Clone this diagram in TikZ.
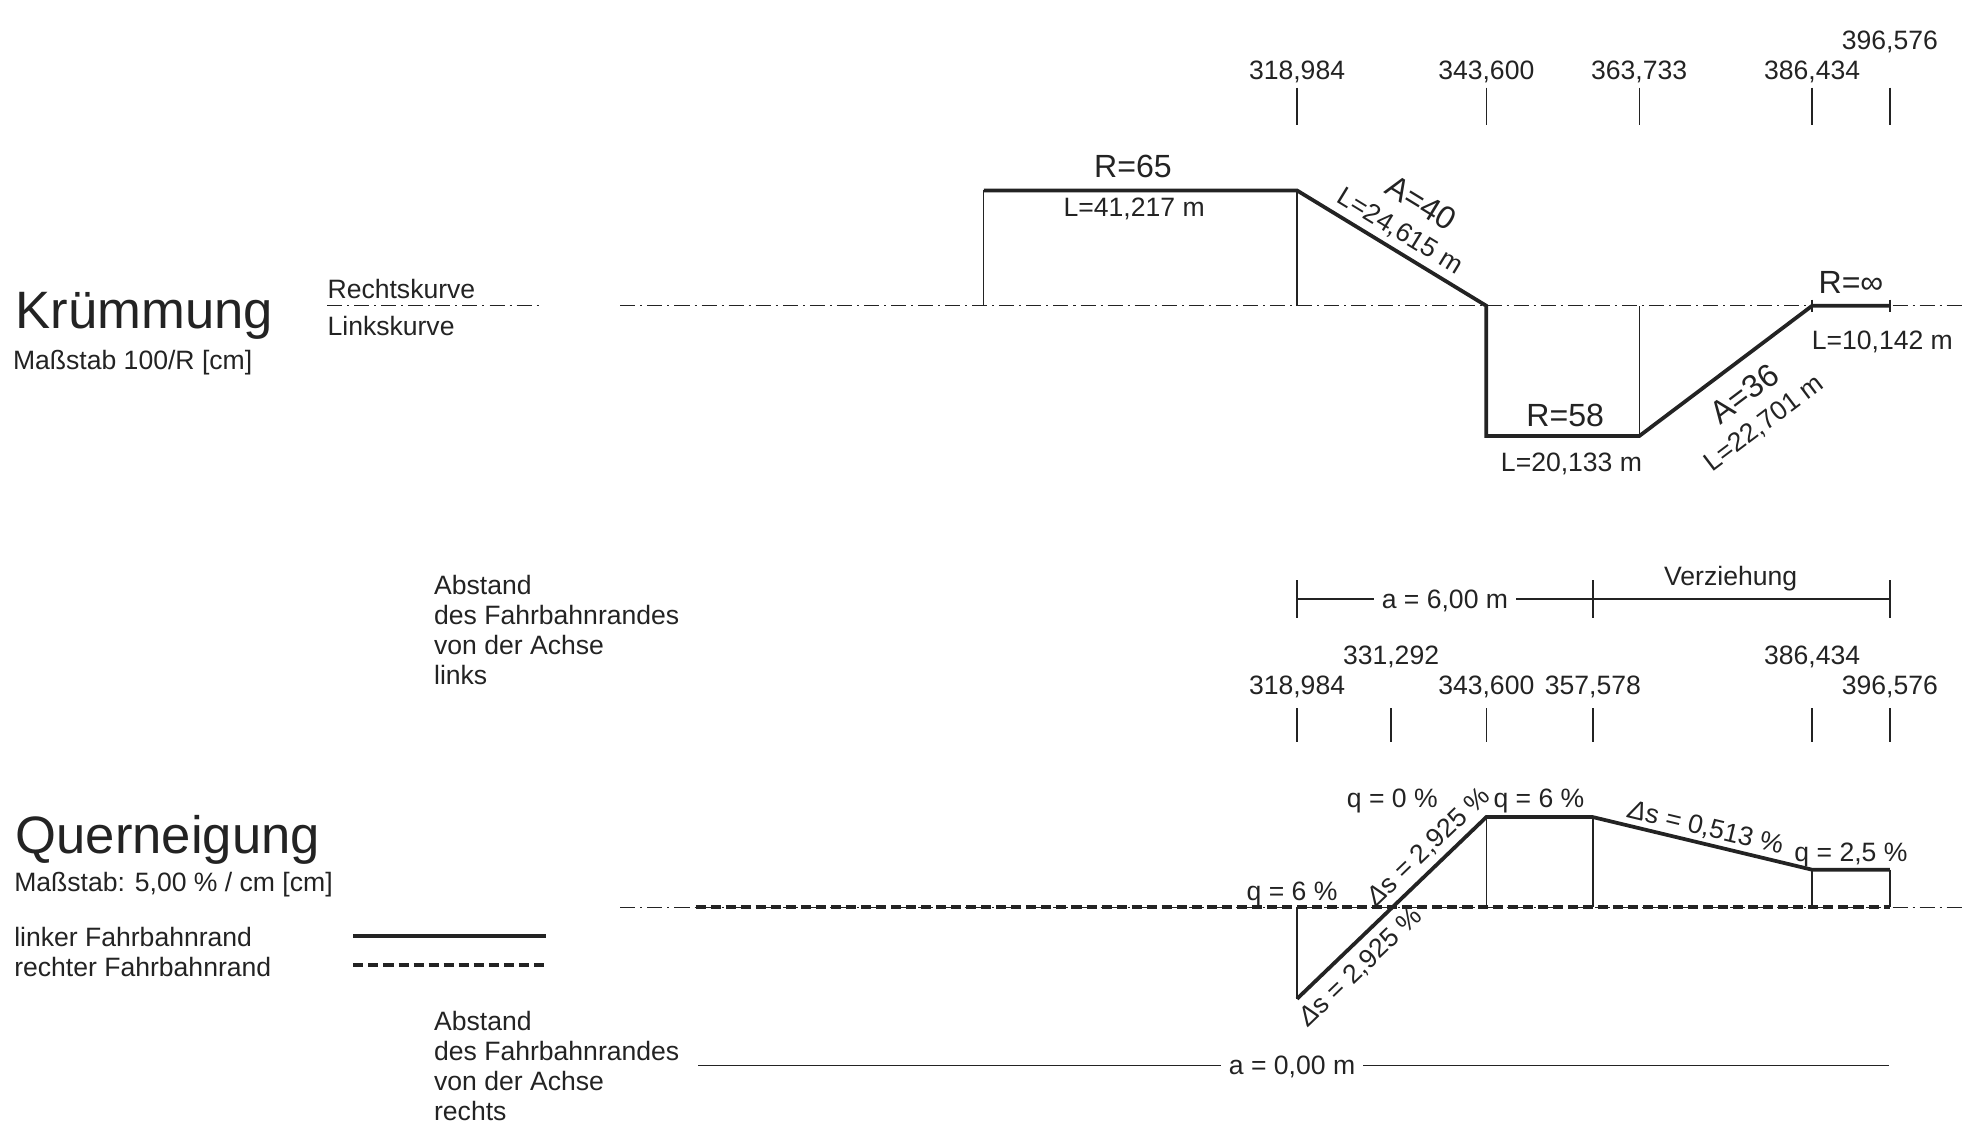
\documentclass[tikz,border=0pt]{standalone}
\usepackage{fontspec}
\setmainfont{Liberation Sans}
\definecolor{ink}{RGB}{35,35,35}
\newcommand{\dlt}{{\itshape Δ}}
\begin{document}
\begin{tikzpicture}[x=0.5pt,y=-0.5pt,
  lab/.style={font=\fontsize{10.6}{12}\selectfont, inner sep=0pt, text=ink},
  big/.style={font=\fontsize{12.8}{15}\selectfont, inner sep=0pt, text=ink},
  ttl/.style={font=\fontsize{21}{25}\selectfont, inner sep=0pt, anchor=base west, text=ink},
  thinline/.style={draw=ink, line width=0.55pt},
  thickline/.style={draw=ink, line width=1.5pt, line join=miter},
  axisline/.style={draw=ink, line width=0.55pt, dash pattern=on 6pt off 2pt on 0.8pt off 2pt},
  rdash/.style={draw=ink, line width=1.5pt, dash pattern=on 4pt off 2pt},
]
\useasboundingbox (0,0) rectangle (1568,900);

%% ---------------- Krümmung ----------------
\node[ttl] (tk) at (12,262) {Krümmung};
\node[lab, anchor=base west] (mk) at (10,295) {Maßstab 100/R [cm]};
\node[lab, anchor=base west] (rk) at (261,238) {Rechtskurve};
\node[lab, anchor=base west] (lk) at (261,268) {Linkskurve};
\coordinate (kl1) at (261,244);
\coordinate (kl2) at (433,244);
\draw[axisline] (kl1) -- (kl2);
\coordinate (kax1) at (495,244);
\coordinate (kax2) at (1568,244);
\draw[axisline] (kax1) -- (kax2);

% station ticks
\foreach \x in {1035,1186,1308,1446,1508}{
  \coordinate (tt\x a) at (\x,70);
  \coordinate (tt\x b) at (\x,100);
  \draw[thinline] (tt\x a) -- (tt\x b);
}
\node[lab, anchor=base] (s1) at (1035,63.5) {318,984};
\node[lab, anchor=base] (s2) at (1186,63.5) {343,600};
\node[lab, anchor=base] (s3) at (1308,63.5) {363,733};
\node[lab, anchor=base] (s4) at (1446,63.5) {386,434};
\node[lab, anchor=base] (s5) at (1508,39.5) {396,576};

\coordinate (kA) at (785,152);
\coordinate (kA0) at (785,244);
\coordinate (kB) at (1035,152);
\coordinate (kB0) at (1035,244);
\coordinate (kC) at (1186,244);
\coordinate (kD) at (1186,348);
\coordinate (kE) at (1308,348);
\coordinate (kE0) at (1308,244);
\coordinate (kF) at (1446,244);
\coordinate (kG) at (1508,244);
\coordinate (kFa) at (1446,239);
\coordinate (kFb) at (1446,249);
\coordinate (kGa) at (1508,239);
\coordinate (kGb) at (1508,249);
\draw[thinline] (kA) -- (kA0);
\draw[thinline] (kB) -- (kB0);
\draw[thinline] (kE) -- (kE0);
\draw[thinline] (kFa) -- (kFb);
\draw[thinline] (kGa) -- (kGb);
\draw[thickline] (kA) -- (kB) -- (kC) -- (kD) -- (kE) -- (kF) -- (kG);

\node[big, anchor=base] (r65) at (904,142) {R=65};
\node[lab, anchor=base] (l65) at (905,172.5) {L=41,217 m};
\node[big, rotate=-31.4] (a40) at (1134,162) {A=40};
\node[lab, rotate=-31.4] (l40) at (1117,185) {L=24,615 m};
\node[big, anchor=base] (r58) at (1249,340) {R=58};
\node[lab, anchor=base] (l58) at (1254,376.5) {L=20,133 m};
\node[big, rotate=37] (a36) at (1392,314) {A=36};
\node[lab, rotate=37] (l36) at (1408,338) {L=22,701 m};
\node[big, anchor=base] (rinf) at (1477,234) {R=∞};
\node[lab, anchor=base] (linf) at (1502,278.5) {L=10,142 m};

%% ---------------- Abstand links ----------------
\node[lab, anchor=base west] (ab1) at (346,474.5) {Abstand};
\node[lab, anchor=base west] (ab2) at (346,498.5) {des Fahrbahnrandes};
\node[lab, anchor=base west] (ab3) at (346,522.5) {von der Achse};
\node[lab, anchor=base west] (ab4) at (346,546.5) {links};

\coordinate (m1a) at (1035,463); \coordinate (m1b) at (1035,493);
\coordinate (m2a) at (1271,463); \coordinate (m2b) at (1271,493);
\coordinate (m3a) at (1508,463); \coordinate (m3b) at (1508,493);
\draw[thinline] (m1a) -- (m1b);
\draw[thinline] (m2a) -- (m2b);
\draw[thinline] (m3a) -- (m3b);
\coordinate (m1) at (1035,478);
\coordinate (m2) at (1271,478);
\coordinate (m3) at (1508,478);
\node[lab, anchor=base, inner xsep=3pt] (a6) at (1153,485.5) {a = 6,00 m};
\draw[thinline] (m1) -- (m1 -| a6.west);
\draw[thinline] (m1 -| a6.east) -- (m2) -- (m3);
\node[lab, anchor=base] (vz) at (1381,467.5) {Verziehung};

\node[lab, anchor=base] (p2) at (1110,530.5) {331,292};
\node[lab, anchor=base] (p5) at (1446,530.5) {386,434};
\node[lab, anchor=base] (p1) at (1035,554.5) {318,984};
\node[lab, anchor=base] (p3) at (1186,554.5) {343,600};
\node[lab, anchor=base] (p4) at (1271,554.5) {357,578};
\node[lab, anchor=base] (p6) at (1508,554.5) {396,576};
\foreach \x in {1035,1110,1186,1271,1446,1508}{
  \coordinate (mt\x a) at (\x,565);
  \coordinate (mt\x b) at (\x,592);
  \draw[thinline] (mt\x a) -- (mt\x b);
}

%% ---------------- Querneigung ----------------
\node[ttl] (tq) at (12,681) {Querneigung};
\node[lab, anchor=base west] (mq) at (11,711.5) {Maßstab: 5,00 \% / cm [cm]};
\node[lab, anchor=base west] (lfr) at (11,755.5) {linker Fahrbahnrand};
\node[lab, anchor=base west] (rfr) at (11,779.5) {rechter Fahrbahnrand};
\coordinate (ls1) at (282,747); \coordinate (ls2) at (436,747);
\coordinate (ld1) at (282,770); \coordinate (ld2) at (436,770);
\draw[thickline] (ls1) -- (ls2);
\draw[rdash] (ld1) -- (ld2);

\coordinate (qax1) at (495,724);
\coordinate (qax2) at (1568,724);
\draw[axisline] (qax1) -- (qax2);

\coordinate (qA) at (1035,797);  \coordinate (qA0) at (1035,724);
\coordinate (qB) at (1186,652);  \coordinate (qB0) at (1186,724);
\coordinate (qC) at (1271,652);  \coordinate (qC0) at (1271,724);
\coordinate (qD) at (1446,694);  \coordinate (qD0) at (1446,724);
\coordinate (qE) at (1508,694);  \coordinate (qE0) at (1508,724);
\coordinate (qr1) at (555,724);
\draw[thinline] (qA) -- (qA0);
\draw[thinline] (qB) -- (qB0);
\draw[thinline] (qC) -- (qC0);
\draw[thinline] (qD) -- (qD0);
\draw[thinline] (qE) -- (qE0);
\draw[rdash] (qr1) -- (qE0);
\draw[thickline] (qA) -- (qB) -- (qC) -- (qD) -- (qE);

\node[lab, anchor=base] (q6a) at (1031,718.5) {q = 6 \%};
\node[lab, anchor=base] (q0) at (1111,644.5) {q = 0 \%};
\node[lab, anchor=base] (q6b) at (1228,644.5) {q = 6 \%};
\node[lab, anchor=base] (q25) at (1477,687.5) {q = 2,5 \%};
\node[lab, rotate=43.8] (ds1) at (1140,676) {\dlt s = 2,925 \%};
\node[lab, rotate=43.8] (ds2) at (1086,772) {\dlt s = 2,925 \%};
\node[lab, rotate=-13.5] (ds3) at (1361,661) {\dlt s = 0,513 \%};

%% ---------------- Abstand rechts ----------------
\node[lab, anchor=base west] (bb1) at (346,822.5) {Abstand};
\node[lab, anchor=base west] (bb2) at (346,846.5) {des Fahrbahnrandes};
\node[lab, anchor=base west] (bb3) at (346,870.5) {von der Achse};
\node[lab, anchor=base west] (bb4) at (346,894.5) {rechts};
\coordinate (b1) at (557,850);
\coordinate (b2) at (1507,850);
\node[lab, anchor=base, inner xsep=3pt] (a0) at (1031,857.5) {a = 0,00 m};
\draw[thinline] (b1) -- (b1 -| a0.west);
\draw[thinline] (b1 -| a0.east) -- (b2);
\end{tikzpicture}
\end{document}
